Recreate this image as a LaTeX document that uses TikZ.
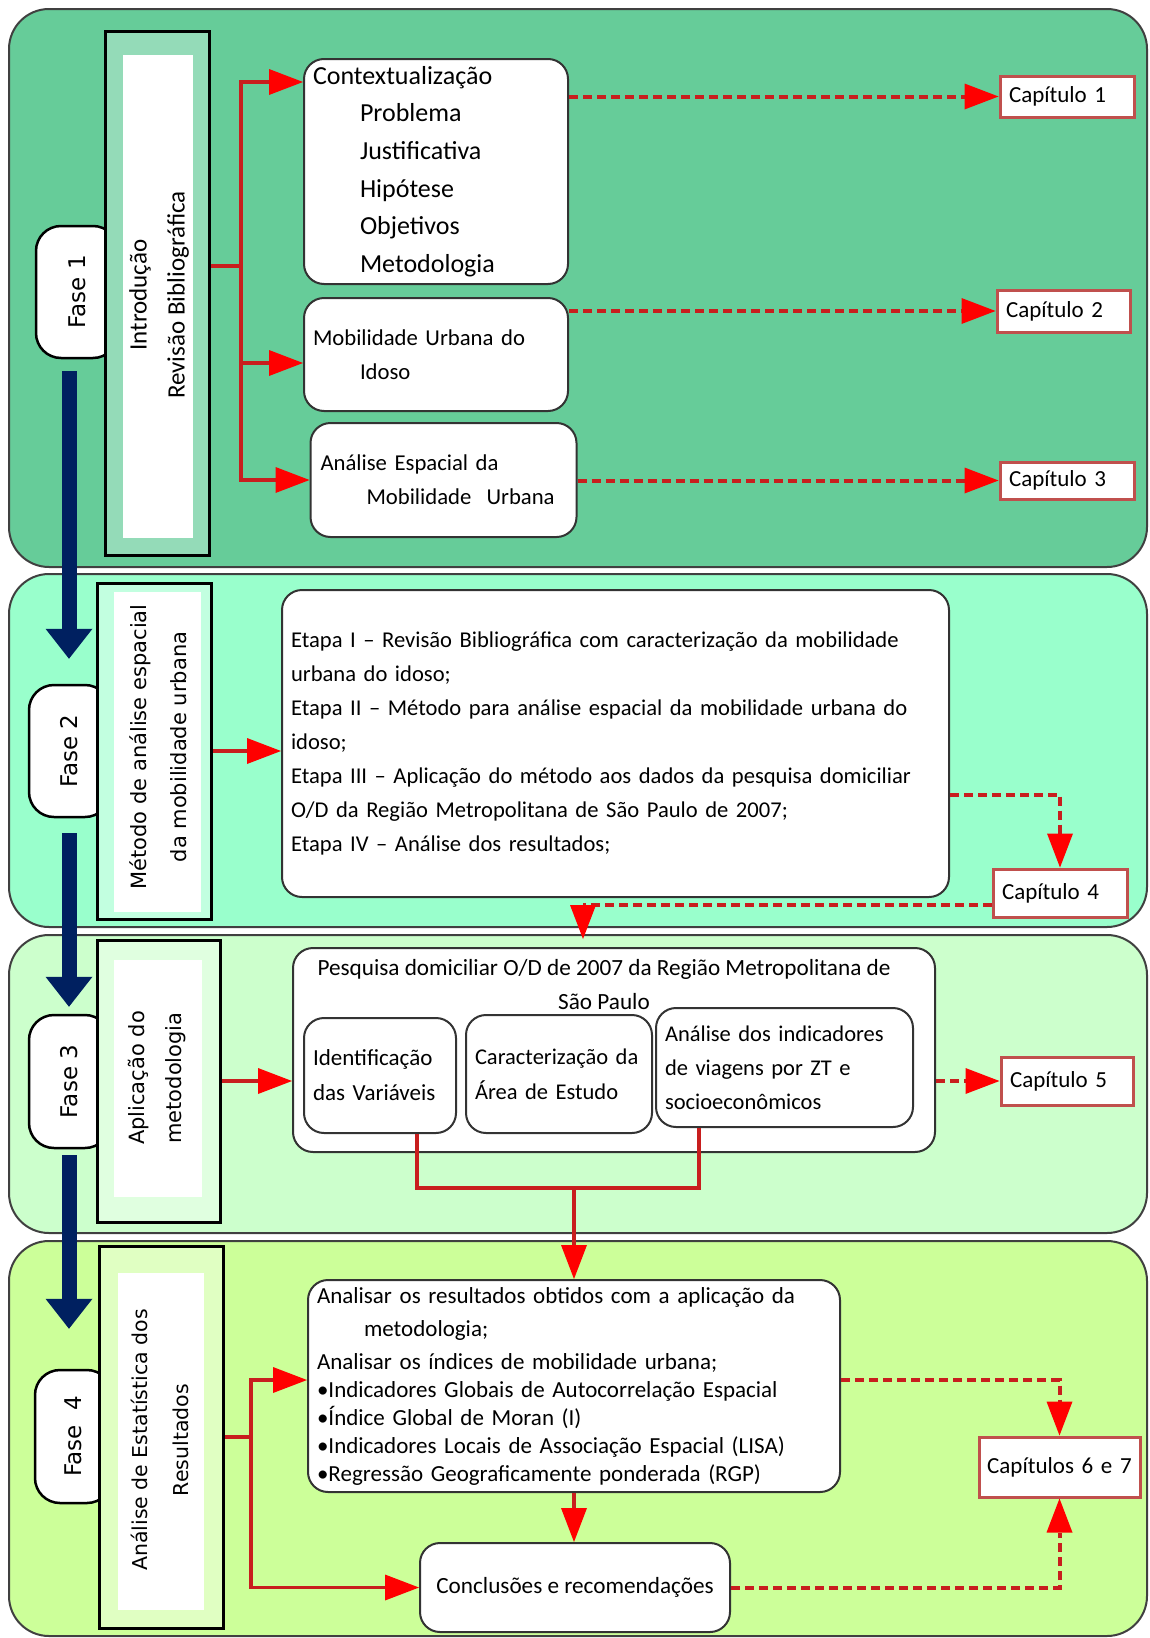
\documentclass[tikz,border=0pt]{standalone}
\usepackage{fontspec}
\setmainfont{Carlito}
\newfontfamily\verdana{DejaVu Sans}
\usepackage{graphicx}
\usetikzlibrary{arrows.meta,calc}
\definecolor{fase1cor}{HTML}{66CC99}
\definecolor{fase2cor}{HTML}{99FFCC}
\definecolor{fase3cor}{HTML}{CCFFCC}
\definecolor{fase4cor}{HTML}{CCFF99}
\definecolor{azul}{HTML}{002060}
\definecolor{linhavermelha}{HTML}{C81E1E}
\definecolor{bordacap}{HTML}{C0504D}
\newcommand{\tam}[2]{\fontsize{#1}{#2}\selectfont}

\begin{document}
\begin{tikzpicture}[x=1pt,y=-1pt,
    painel/.style={draw=black!75,line width=2pt,rounded corners=40pt},
    fase/.style={draw=black,fill=white,line width=2.5pt,rounded corners=25pt,inner sep=0pt,font=\verdana\tam{23}{27}},
    rotulo/.style={draw=black,line width=3pt,inner sep=0pt},
    caixa/.style={draw=black!80,fill=white,line width=2pt,rounded corners=20pt,inner xsep=9pt,inner ysep=0pt,align=left},
    capitulo/.style={draw=bordacap,fill=white,line width=3pt,inner xsep=9pt,inner ysep=0pt,align=left,font=\tam{23}{27}},
    ponta/.style={-{Triangle[length=34pt,width=26pt,line width=0pt,fill=red,color=red]}},
    linha/.style={draw=linhavermelha,line width=3.5pt},
    seta/.style={linha,ponta},
    tracejada/.style={linha,line width=4pt,dash pattern=on 9pt off 5pt,ponta},
    setaazul/.style={draw=azul,line width=15pt,-{Triangle[length=30pt,width=47pt,line width=0pt]}}]
  \useasboundingbox (0,0) rectangle (1150,1638);
  \draw[painel,fill=fase1cor] (9,9) rectangle (1147,567);
  \draw[painel,fill=fase2cor] (9,574) rectangle (1147,927);
  \draw[painel,fill=fase3cor] (9,935) rectangle (1147,1233);
  \draw[painel,fill=fase4cor] (9,1241) rectangle (1147,1636);

  \node[fase,minimum width=82pt,minimum height=132pt] (fase1) at (77,292) {\rotatebox{90}{Fase 1}\hspace{14pt}};
  \node[fase,minimum width=81pt,minimum height=132pt] (fase2) at (69.5,751) {\rotatebox{90}{Fase 2}\hspace{15pt}};
  \node[fase,minimum width=81pt,minimum height=133pt] (fase3) at (69.5,1081.5) {\rotatebox{90}{Fase 3}\hspace{15pt}};
  \node[fase,minimum width=77pt,minimum height=133pt] (fase4) at (73.5,1436.5) {\rotatebox{90}{Fase\ \ 4}\hspace{13pt}};

  \node[rotulo,fill=fase1cor!70!white,minimum width=104pt,minimum height=524pt] (rot1) at (157,293) {};
  \fill[white] (123,55) rectangle (193,538);
  \node[rotate=90,align=center,font=\tam{25}{38}] (txt1) at (159,295) {Introdução\\Revisão Bibliográfica};
  \node[rotulo,fill=fase2cor!60!white,minimum width=114pt,minimum height=336pt] (rot2) at (154,751) {};
  \fill[white] (114,592) rectangle (201,912);
  \node[rotate=90,align=center,font=\verdana\tam{21}{40}] (txt2) at (158,747) {Método de análise espacial\\da mobilidade urbana};
  \node[rotulo,fill=fase3cor!60!white,minimum width=123pt,minimum height=282pt] (rot3) at (158.5,1081) {};
  \fill[white] (114,960) rectangle (202,1197);
  \node[rotate=90,align=center,font=\verdana\tam{21}{37}] (txt3) at (157.5,1078) {Aplicação do\\metodologia};
  \node[rotulo,fill=fase4cor!60!white,minimum width=124pt,minimum height=382pt] (rot4) at (161,1437) {};
  \fill[white] (118,1273) rectangle (204,1610);
  \node[rotate=90,align=center,font=\verdana\tam{20.5}{41}] (txt4) at (159.5,1440) {Análise de Estatística dos\\Resultados};

  \node[caixa,text width=246pt,minimum height=225pt,font=\tam{26}{37.6}] (ctx) at (436,171.5) {Contextualização\\\hspace*{47pt}Problema\\\hspace*{47pt}Justificativa\\\hspace*{47pt}Hipótese\\\hspace*{47pt}Objetivos\\\hspace*{47pt}Metodologia};
  \node[caixa,text width=246pt,minimum height=113pt,font=\tam{22.7}{34}] (mob) at (436,354.5) {Mobilidade Urbana do\\\hspace*{47pt}Idoso};
  \node[caixa,text width=246pt,minimum height=114pt,inner xsep=10pt,font=\tam{22.7}{34}] (esp) at (443.5,480) {Análise Espacial da\\\hspace*{46pt}Mobilidade\ \ Urbana};
  \node[capitulo,text width=116pt,minimum height=41pt] (cap1) at (1067,96.5) {Capítulo 1};
  \node[capitulo,text width=115pt,minimum height=42pt] (cap2) at (1063.5,311) {Capítulo 2};
  \node[capitulo,text width=116pt,minimum height=37pt] (cap3) at (1067,480.5) {Capítulo 3};

  \node[caixa,text width=649pt,minimum height=307pt,font=\tam{22.6}{34}] (met) at (615.5,743.5) {Etapa I – Revisão Bibliográfica com caracterização da mobilidade\\urbana do idoso;\\Etapa II – Método para análise espacial da mobilidade urbana do\\idoso;\\Etapa III – Aplicação do método aos dados da pesquisa domiciliar\\O/D da Região Metropolitana de São Paulo de 2007;\\Etapa IV – Análise dos resultados;};
  \node[capitulo,text width=116pt,minimum height=48pt] (cap4) at (1060,893) {Capítulo 4};

  \node[caixa,minimum width=642pt,minimum height=204pt] (pesq) at (614,1050) {};
  \node[align=center,font=\tam{23.2}{34}] (tpesq) at (604,985) {Pesquisa domiciliar O/D de 2007 da Região Metropolitana de\\São Paulo};
  \node[caixa,text width=134pt,minimum height=115pt,font=\tam{23}{35}] (idv) at (380,1075.5) {Identificação\\das Variáveis};
  \node[caixa,text width=168pt,minimum height=118pt,font=\tam{22.5}{35}] (car) at (559,1074) {Caracterização da\\Área de Estudo};
  \node[caixa,text width=239pt,minimum height=119pt,font=\tam{22.5}{34}] (ind) at (784.5,1067.5) {Análise dos indicadores\\de viagens por ZT e\\socioeconômicos};
  \node[capitulo,text width=114pt,minimum height=48pt] (cap5) at (1067,1081) {Capítulo 5};

  \node[caixa,text width=514pt,minimum height=212pt,font=\tam{23}{28}] (res) at (574,1386) {Analisar os resultados obtidos com a aplicação da\\[5pt]\hspace*{47pt}metodologia;\\[5pt]Analisar os índices de mobilidade urbana;\\•Indicadores Globais de Autocorrelação Espacial\\•Índice Global de Moran (I)\\•Indicadores Locais de Associação Espacial (LISA)\\•Regressão Geograficamente ponderada (RGP)};
  \node[caixa,align=center,minimum width=310pt,minimum height=89pt,font=\tam{23.2}{27}] (conc) at (575,1587.5) {Conclusões e recomendações};
  \node[capitulo,text width=150pt,inner xsep=5.5pt,align=center,minimum height=60pt] (cap67) at (1059.5,1467) {Capítulos 6 e 7};

  \coordinate (tronco1) at (241,266);
  \draw[linha] (rot1.east |- tronco1) -- (tronco1);
  \draw[seta] (tronco1) |- ([yshift=-24pt]ctx.north west);
  \draw[seta] (tronco1) |- ([yshift=-8.5pt]mob.west);
  \draw[seta] (tronco1) |- (esp.west);
  \draw[tracejada] (cap1.west -| ctx.east) -- (cap1.west);
  \draw[tracejada] (cap2.west -| mob.east) -- (cap2.west);
  \draw[tracejada] (esp.east |- cap3.west) -- (cap3.west);

  \draw[seta] (rot2.east) -- (rot2.east -| met.west);
  \draw[tracejada] ([yshift=-51pt]met.east) -| (cap4.north);
  \draw[tracejada,shorten >=8pt] ([yshift=-12pt]cap4.west) -| ([xshift=-31pt]pesq.north);

  \draw[seta] (rot3.east) -- (rot3.east -| pesq.west);
  \draw[tracejada] (cap5.west -| pesq.east) -- (cap5.west);
  \coordinate (juncao) at (574,1188);
  \draw[linha] ([xshift=37pt]idv.south) |- (juncao) -| ([xshift=-85.5pt]ind.south);
  \draw[seta] (juncao) -- (res.north);

  \coordinate (tronco4) at (251,1437);
  \draw[linha] (rot4.east) -- (tronco4);
  \draw[seta] (tronco4) |- ([yshift=6pt]res.west);
  \draw[seta] (tronco4) |- (conc.west);
  \draw[seta] (res.south) -- (res.south |- conc.north);
  \draw[tracejada] ([yshift=6pt]res.east) -| (cap67.north);
  \draw[tracejada] (conc.east) -| (cap67.south);

  \coordinate (eixo) at (69,0);
  \draw[setaazul] ($(fase1.south -| eixo)+(0,12)$) -- ($(fase2.north -| eixo)+(0,-25)$);
  \draw[setaazul] ($(fase2.south -| eixo)+(0,15)$) -- ($(fase3.north -| eixo)+(0,-7)$);
  \draw[setaazul] ($(fase3.south -| eixo)+(0,6)$) -- ($(fase4.north -| eixo)+(0,-40)$);
\end{tikzpicture}
\end{document}
